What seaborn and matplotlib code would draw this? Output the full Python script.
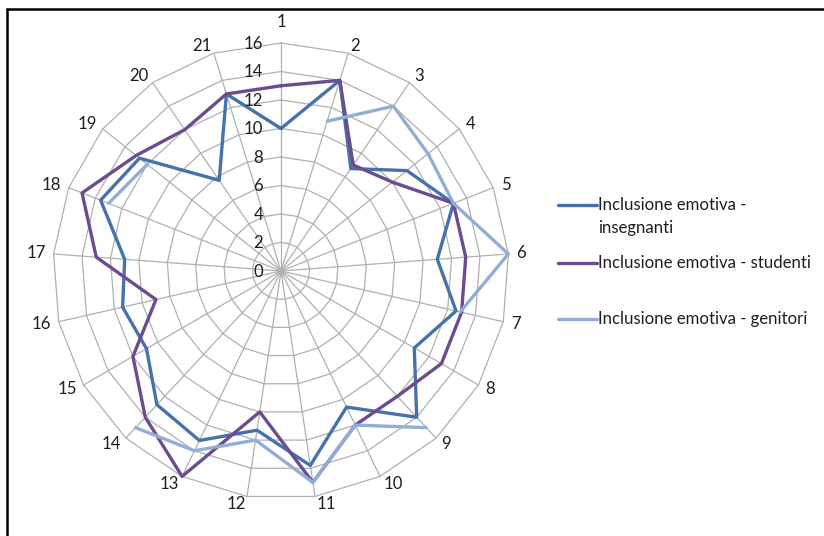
import numpy as np
import pandas as pd
import matplotlib
matplotlib.use("Agg")
import matplotlib.pyplot as plt
from matplotlib.lines import Line2D
import seaborn as sns

# Axis categories (items 1..21)
categories = [str(i) for i in range(1, 22)]

# Scores per item
insegnanti = [10, 14, 8.7, 11.3, 13, 11, 12.6, 10.8, 14, 10.6, 13.8,
              11.3, 13.2, 12.8, 10.9, 11.4, 11, 13.6, 12.7, 7.7, 13]
studenti = [13, 14, 9, 10, 13, 13, 13, 13, 12, 12, 15,
            10, 16, 14, 12, 9, 13, 15, 13, 12, 13]
genitori = [np.nan, 11, 14, 13.2, 13, 16, 12.9, np.nan, 15, 12, 15,
            12, 14, 15, np.nan, np.nan, np.nan, 13, 12, np.nan, np.nan]

series_names = ["Inclusione emotiva - insegnanti",
                "Inclusione emotiva - studenti",
                "Inclusione emotiva - genitori"]
legend_lines = [["Inclusione emotiva -", "insegnanti"],
                ["Inclusione emotiva - studenti"],
                ["Inclusione emotiva - genitori"]]
colors = ["#4672AB", "#6C4B8E", "#93AED6"]

r_ticks = [0, 2, 4, 6, 8, 10, 12, 14, 16]
r_max = 16

sns.set_style("white")
plt.rcParams["font.family"] = ["Lato", "DejaVu Sans"]

n = len(categories)
theta = np.linspace(0, 2 * np.pi, n, endpoint=False)


def segments(values, name):
    """Split a closed series into contiguous runs (gaps where values are missing)."""
    th = list(theta) + [2 * np.pi]
    vals = list(values) + [values[0]]
    rows, seg, run = [], 0, []
    for t, v in zip(th, vals):
        if np.isnan(v):
            if len(run) > 1:
                rows += [(name, seg, tt, vv) for tt, vv in run]
            seg += 1
            run = []
        else:
            run.append((t, v))
    if len(run) > 1:
        rows += [(name, seg, tt, vv) for tt, vv in run]
    return rows


rows = []
for name, vals in zip(series_names, [insegnanti, studenti, genitori]):
    rows += segments(vals, name)
df = pd.DataFrame(rows, columns=["serie", "segmento", "theta", "valore"])
df["unita"] = df["serie"] + "_" + df["segmento"].astype(str)

W, H = 824, 536
fig = plt.figure(figsize=(W / 100, H / 100), dpi=100)
fig.patch.set_facecolor("white")

cx, cy, R = 281, 271, 228
ax = fig.add_axes([(cx - R) / W, (H - cy - R) / H, 2 * R / W, 2 * R / H],
                  projection="polar")
ax.set_theta_zero_location("N")
ax.set_theta_direction(-1)
ax.set_ylim(0, r_max)
ax.grid(False)
ax.spines["polar"].set_visible(False)
ax.set_xticks([])
ax.set_yticks([])
ax.set_facecolor("none")

grid_col = "#B0B0B0"
# polygonal rings
th_closed = np.append(theta, 2 * np.pi)
for lvl in r_ticks[1:]:
    ax.plot(th_closed, [lvl] * (n + 1), color=grid_col, lw=0.9,
            clip_on=False, zorder=1)
# spokes
for t in theta:
    ax.plot([t, t], [0, r_max], color=grid_col, lw=0.9, clip_on=False, zorder=1)

sns.lineplot(data=df, x="theta", y="valore", hue="serie", units="unita",
             estimator=None, sort=False, palette=dict(zip(series_names, colors)),
             hue_order=series_names, linewidth=2.4, legend=False, ax=ax)
for line in ax.lines:
    line.set_clip_on(False)
ax.set_xlabel("")
ax.set_ylabel("")

txt_col = "#1E1E1E"
fs = 12.1
# category labels around the web: anchored just outside the outer ring,
# left-aligned on the right half and right-aligned on the left half
for t, lab in zip(theta, categories):
    s = np.sin(t)
    if abs(s) < 0.05:
        ax.text(t, r_max * 1.09, lab, ha="center", va="center",
                fontsize=fs, color=txt_col)
    else:
        ax.text(t, r_max * 1.035, lab, ha="left" if s > 0 else "right",
                va="center", fontsize=fs, color=txt_col)

# radial value labels along the first spoke
for lvl in r_ticks:
    ax.annotate(str(lvl), xy=(0, lvl), xytext=(-13, -0.5),
                textcoords="offset points", ha="right", va="center",
                fontsize=fs, color=txt_col, annotation_clip=False)

# legend
leg_y = [205, 263, 319]
for y, lines, c in zip(leg_y, legend_lines, colors):
    fig.add_artist(Line2D([558 / W, 597 / W], [1 - y / H, 1 - y / H],
                          color=c, lw=2.4))
    for k, txt in enumerate(lines):
        fig.text(598 / W, 1 - (y + 23 * k) / H, txt, ha="left", va="center",
                 fontsize=fs, color=txt_col)

# outer frame (top and left edges)
fig.add_artist(Line2D([7.5 / W, 7.5 / W], [0, 1 - 9 / H], color="black", lw=1.8))
fig.add_artist(Line2D([7.5 / W, 1], [1 - 9 / H, 1 - 9 / H], color="black", lw=1.8))

fig.savefig("out.png", dpi=100, facecolor="white")
